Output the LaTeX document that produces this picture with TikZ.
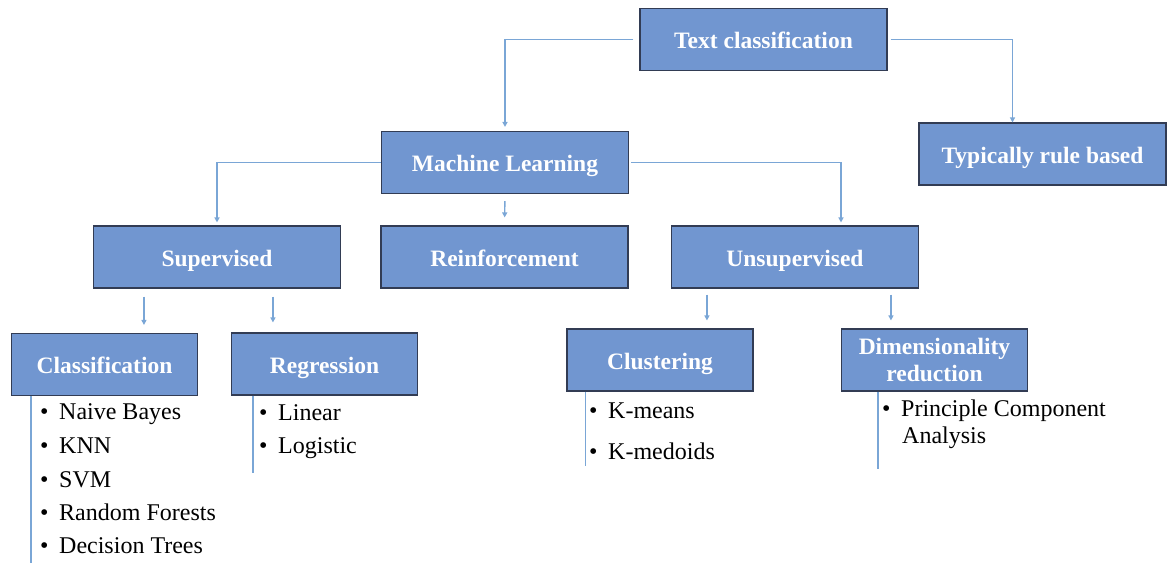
\documentclass[tikz,border=0pt]{standalone}
\usepackage{fontspec}
\setmainfont{Liberation Serif}
\usetikzlibrary{arrows.meta}
\definecolor{boxfill}{RGB}{113,150,208}
\definecolor{boxline}{RGB}{50,60,84}
\definecolor{linkcol}{RGB}{122,166,214}
\tikzset{
  catbase/.style={draw=boxline, line width=1.1pt, fill=boxfill, inner sep=0pt,
    text=white, font=\fontsize{23.5}{26}\selectfont\bfseries, align=center},
  catbox/.style={catbase, text height=22pt, text depth=4pt},
  bigbox/.style={catbox, minimum width=247pt, minimum height=62pt},
  smallbox/.style={catbox, minimum width=186pt, minimum height=62pt},
  twolinebox/.style={catbase, minimum width=186pt, minimum height=62pt},
  link/.style={draw=linkcol, line width=1.4pt},
  arr/.style={link, -{Triangle[length=5pt,width=5pt]}},
  listitem/.style={anchor=west, inner sep=0pt, text height=17pt, text depth=5pt,
    font=\fontsize{24}{28}\selectfont},
}
\newcommand{\bul}[1]{\makebox[19pt][l]{\textbullet}#1}
\begin{document}
\begin{tikzpicture}[x=1pt, y=-1pt]
\useasboundingbox (0,0) rectangle (1168,565);

% category boxes
\node[bigbox]     (tc)   at (763.5,39.5)  {Text classification};
\node[bigbox]     (rule) at (1042.5,154)  {Typically rule based};
\node[bigbox]     (ml)   at (505,162.5)   {Machine Learning};
\node[bigbox]     (sup)  at (217,257)     {Supervised};
\node[bigbox]     (rein) at (504.5,257)   {Reinforcement};
\node[bigbox]     (uns)  at (795,257)     {Unsupervised};
\node[smallbox]   (cls)  at (104.5,364.5) {Classification};
\node[smallbox]   (reg)  at (324.5,364)   {Regression};
\node[smallbox]   (clu)  at (660,360)     {Clustering};
\node[twolinebox] (dim)  at (934.5,360)   {Dimensionality\\[1pt]reduction};

% connectors between levels
\draw[arr, shorten <=6pt, shorten >=4pt] (tc.west) -| (ml.north);
\draw[arr, shorten <=3pt] (tc.east) -| ([xshift=-30pt]rule.north);
\draw[arr, shorten >=3pt] (ml.west) -| (sup.north);
\draw[arr, shorten <=2pt, shorten >=3pt] (ml.east) -| ([xshift=46pt]uns.north);
\draw[arr, shorten <=7pt, shorten >=8pt] (ml.south) -- (rein.north);
\draw[arr, shorten <=8pt, shorten >=8pt] ([xshift=51pt]sup.south west) -- ([xshift=51pt]sup.south west |- cls.north);
\draw[arr, shorten <=8pt, shorten >=10pt] ([xshift=180pt]sup.south west) -- ([xshift=180pt]sup.south west |- reg.north);
\draw[arr, shorten <=6pt, shorten >=8pt] ([xshift=36pt]uns.south west) -- ([xshift=36pt]uns.south west |- clu.north);
\draw[arr, shorten <=6pt, shorten >=8pt] ([xshift=220pt]uns.south west) -- ([xshift=220pt]uns.south west |- dim.north);

% side rules beside the lists
\draw[link] ([xshift=20pt]cls.south west) -- ++(0,-167pt) coordinate (clsend);
\draw[link] ([xshift=22pt]reg.south west) -- ++(0,-77pt) coordinate (regend);
\draw[link] ([xshift=19pt]clu.south west) -- ++(0,-74pt) coordinate (cluend);
\draw[link] ([xshift=37pt]dim.south west) -- ++(0,-77pt) coordinate (dimend);

% method lists
\node[listitem] (c1) at (40,413) {\bul{Naive Bayes}};
\node[listitem] (c2) at (40,447) {\bul{KNN}};
\node[listitem] (c3) at (40,481) {\bul{SVM}};
\node[listitem] (c4) at (40,514) {\bul{Random Forests}};
\node[listitem] (c5) at (40,547) {\bul{Decision Trees}};

\node[listitem] (r1) at (259,414) {\bul{Linear}};
\node[listitem] (r2) at (259,447) {\bul{Logistic}};

\node[listitem] (k1) at (589,412) {\bul{K-means}};
\node[listitem] (k2) at (589,453) {\bul{K-medoids}};

\node[listitem] (d1) at (882,410) {\bul{Principle Component}};
\node[listitem] (d2) at (902,437) {Analysis};
\end{tikzpicture}
\end{document}
